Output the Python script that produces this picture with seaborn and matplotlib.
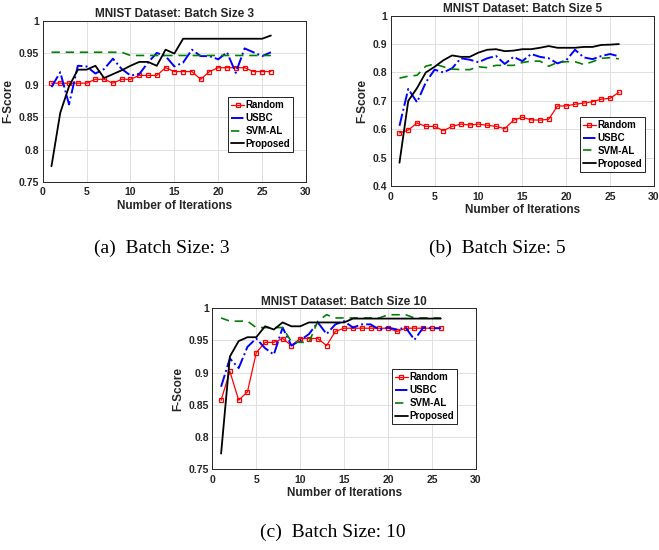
import numpy as np
import pandas as pd
import seaborn as sns
import matplotlib.pyplot as plt
from matplotlib.ticker import FixedLocator

iterations = list(range(1, 27))

# Batch size 3
random_3 = [0.903, 0.903, 0.903, 0.903, 0.903, 0.909, 0.909, 0.903, 0.909, 0.909,
            0.915, 0.915, 0.915, 0.927, 0.921, 0.921, 0.921, 0.909, 0.921, 0.927,
            0.927, 0.927, 0.927, 0.921, 0.921, 0.921]
usbc_3 = [0.897, 0.920, 0.870, 0.930, 0.929, 0.918, 0.925, 0.941, 0.925, 0.915,
          0.917, 0.935, 0.950, 0.945, 0.929, 0.935, 0.955, 0.945, 0.945, 0.940,
          0.951, 0.919, 0.957, 0.951, 0.945, 0.951]
svm_3 = [0.951, 0.951, 0.951, 0.951, 0.951, 0.951, 0.951, 0.951, 0.951, 0.946,
         0.946, 0.946, 0.946, 0.946, 0.946, 0.946, 0.946, 0.946, 0.946, 0.946,
         0.946, 0.946, 0.946, 0.946, 0.946, 0.946]
prop_3 = [0.774, 0.857, 0.898, 0.924, 0.924, 0.930, 0.911, 0.917, 0.923, 0.930,
          0.936, 0.936, 0.930, 0.955, 0.949, 0.972, 0.972, 0.972, 0.972, 0.972,
          0.972, 0.972, 0.972, 0.972, 0.972, 0.977]

# Batch size 5
random_5 = [0.587, 0.597, 0.622, 0.610, 0.610, 0.595, 0.610, 0.618, 0.615, 0.618,
            0.614, 0.610, 0.602, 0.632, 0.642, 0.633, 0.632, 0.635, 0.682, 0.682,
            0.688, 0.692, 0.697, 0.706, 0.709, 0.730]
usbc_5 = [0.612, 0.742, 0.695, 0.765, 0.810, 0.800, 0.815, 0.850, 0.845, 0.836,
          0.850, 0.858, 0.830, 0.855, 0.840, 0.865, 0.855, 0.850, 0.832, 0.843,
          0.880, 0.853, 0.847, 0.858, 0.865, 0.857]
svm_5 = [0.780, 0.787, 0.790, 0.822, 0.830, 0.820, 0.812, 0.810, 0.810, 0.820,
         0.817, 0.825, 0.825, 0.825, 0.835, 0.840, 0.840, 0.822, 0.835, 0.838,
         0.838, 0.828, 0.838, 0.850, 0.852, 0.848]
prop_5 = [0.482, 0.700, 0.745, 0.800, 0.820, 0.843, 0.860, 0.855, 0.855, 0.870,
          0.880, 0.882, 0.875, 0.877, 0.882, 0.882, 0.887, 0.893, 0.887, 0.887,
          0.887, 0.890, 0.890, 0.897, 0.898, 0.900]

# Batch size 10
random_10 = [0.857, 0.902, 0.857, 0.870, 0.931, 0.947, 0.947, 0.953, 0.942, 0.953,
             0.953, 0.953, 0.942, 0.964, 0.969, 0.969, 0.969, 0.969, 0.969, 0.969,
             0.964, 0.969, 0.969, 0.969, 0.969, 0.969]
usbc_10 = [0.878, 0.922, 0.907, 0.940, 0.953, 0.938, 0.928, 0.970, 0.942, 0.950,
           0.960, 0.978, 0.960, 0.975, 0.980, 0.970, 0.975, 0.975, 0.967, 0.970,
           0.967, 0.970, 0.951, 0.970, 0.969, 0.969]
svm_10 = [0.985, 0.980, 0.980, 0.980, 0.970, 0.970, 0.970, 0.970, 0.948, 0.947,
          0.947, 0.980, 0.990, 0.985, 0.985, 0.985, 0.985, 0.985, 0.985, 0.990,
          0.990, 0.990, 0.985, 0.985, 0.985, 0.985]
prop_10 = [0.774, 0.925, 0.949, 0.955, 0.955, 0.972, 0.967, 0.978, 0.972, 0.972,
           0.978, 0.978, 0.978, 0.978, 0.978, 0.984, 0.984, 0.984, 0.984, 0.984,
           0.984, 0.984, 0.984, 0.984, 0.984, 0.984]

methods = ['Random', 'USBC', 'SVM-AL', 'Proposed']
yticks_fine = [0.75, 0.8, 0.85, 0.9, 0.95, 1.0]
ytick_labels_fine = ['0.75', '0.8', '0.85', '0.9', '0.95', '1']
yticks_coarse = [0.4, 0.5, 0.6, 0.7, 0.8, 0.9, 1.0]
ytick_labels_coarse = ['0.4', '0.5', '0.6', '0.7', '0.8', '0.9', '1']

sns.set_style('whitegrid')
plt.rcParams['font.family'] = ['Liberation Sans', 'DejaVu Sans']

W, H = 659, 550
fig = plt.figure(figsize=(W / 100, H / 100), dpi=100)

txt = '#262626'
styles = {
    'Random': dict(color='#ff0000', linestyle='-', marker='s', markersize=3.2,
                   markerfacecolor='none', markeredgecolor='#ff0000',
                   markeredgewidth=0.9, linewidth=0.9),
    'USBC': dict(color='#0000ff', linestyle='-.', linewidth=1.4),
    'SVM-AL': dict(color='#008000', linestyle=(0, (5, 3.5)), linewidth=1.2),
    'Proposed': dict(color='#000000', linestyle='-', linewidth=1.3),
}


def panel(px, title, series, ylim, yt, ytl, leg_anchor):
    l, r, t, b = px
    ax = fig.add_axes([l / W, 1 - b / H, (r - l) / W, (b - t) / H])
    df = pd.DataFrame({'it': iterations})
    for m, vals in zip(methods, series):
        df[m] = vals
    for m in methods:
        sns.lineplot(data=df, x='it', y=m, ax=ax, label=m, **styles[m])
    ax.set_xlim(0, 30)
    ax.set_ylim(*ylim)
    ax.xaxis.set_major_locator(FixedLocator([0, 5, 10, 15, 20, 25, 30]))
    ax.set_yticks(yt)
    ax.set_yticklabels(ytl)
    ax.set_title(title, fontsize=8.5, fontweight='bold', color=txt, pad=2.5)
    ax.set_xlabel('Number of Iterations', fontsize=8.5, fontweight='bold', color=txt, labelpad=2)
    ax.set_ylabel('F-Score', fontsize=8.5, fontweight='bold', color=txt, labelpad=3)
    ax.tick_params(axis='both', labelsize=7.5, colors=txt, direction='in', length=3,
                   width=0.6)
    ax.tick_params(axis='x', pad=4)
    ax.tick_params(axis='y', pad=2.5)
    for lab in ax.get_xticklabels() + ax.get_yticklabels():
        lab.set_fontweight('bold')
    ax.grid(True, color='#e0e0e0', linewidth=0.7)
    for s in ax.spines.values():
        s.set_color(txt)
        s.set_linewidth(0.7)
    leg = ax.legend(loc='lower right', bbox_to_anchor=leg_anchor, fontsize=7,
                    frameon=True, fancybox=False, framealpha=1, borderpad=0.3,
                    labelspacing=0.3, handlelength=1.35, handletextpad=0.15,
                    borderaxespad=0)
    leg.get_frame().set_edgecolor('#000000')
    leg.get_frame().set_linewidth(0.6)
    for tx in leg.get_texts():
        tx.set_fontweight('bold')
        tx.set_color('#000000')
    return ax


panel((42.7, 306, 20.7, 181.7), 'MNIST Dataset: Batch Size 3',
      [random_3, usbc_3, svm_3, prop_3], (0.75, 1.0), yticks_fine, ytick_labels_fine,
      (0.951, 0.186))
panel((390.7, 654, 15.7, 186), 'MNIST Dataset: Batch Size 5',
      [random_5, usbc_5, svm_5, prop_5], (0.4, 1.0), yticks_coarse, ytick_labels_coarse,
      (0.966, 0.084))
panel((212.3, 476, 308.3, 469), 'MNIST Dataset: Batch Size 10',
      [random_10, usbc_10, svm_10, prop_10], (0.75, 1.0), yticks_fine, ytick_labels_fine,
      (0.927, 0.28))

cap = dict(fontsize=14, family=['Liberation Serif', 'DejaVu Serif'], color='#000000',
           ha='center', va='center')
fig.text(162 / W, 1 - 248 / H, '(a)  Batch Size: 3', **cap)
fig.text(497 / W, 1 - 248 / H, '(b)  Batch Size: 5', **cap)
fig.text(333 / W, 1 - 532 / H, '(c)  Batch Size: 10', **cap)

fig.savefig('out.png', dpi=100)
